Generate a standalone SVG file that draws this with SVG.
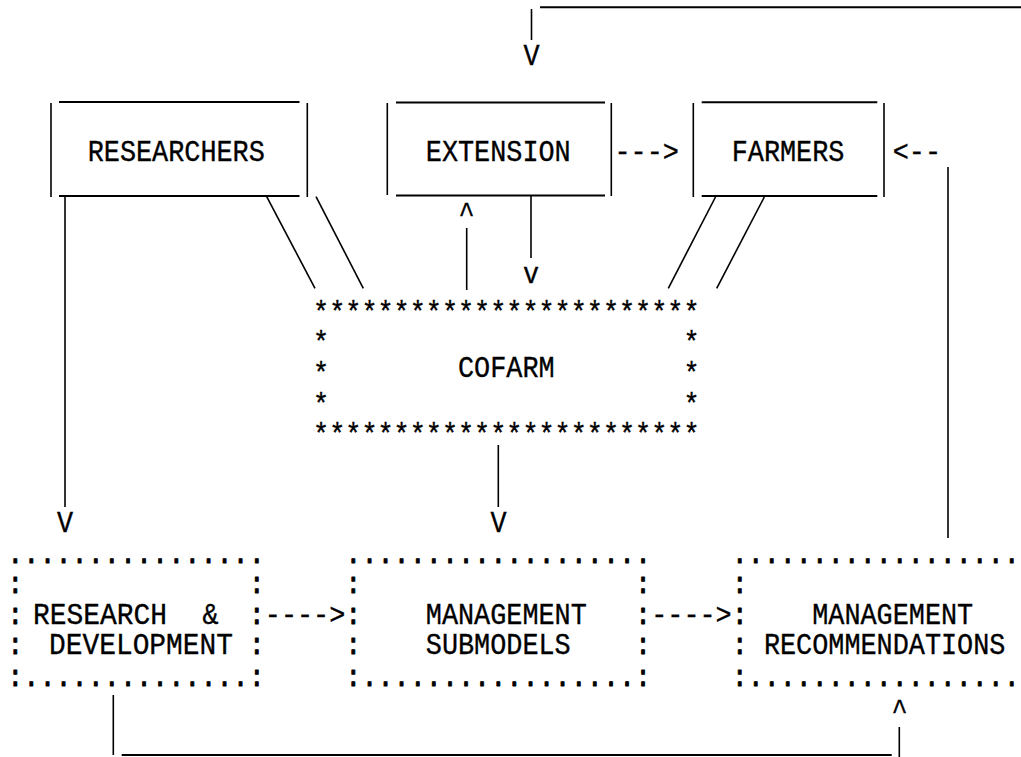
<svg xmlns="http://www.w3.org/2000/svg" width="1021" height="757" viewBox="0 0 1021 757">
<style>
.t{font-family:"Liberation Mono","Courier New",monospace;font-size:30px;fill:#000;stroke:#000;stroke-width:0.35}
.d{stroke-width:0.9;stroke-linejoin:round}
.m{text-anchor:middle}
.h{stroke:#000;stroke-width:2;fill:none}
.v{stroke:#000;stroke-width:1.6;fill:none}
</style>
<rect width="1021" height="757" fill="#fff"/>
<g id="researchers">
<line class="h" x1="59" y1="102" x2="299.5" y2="102"/>
<line class="h" x1="59" y1="196" x2="299.5" y2="196"/>
<line class="v" x1="51" y1="103" x2="51" y2="197"/>
<line class="v" x1="307.3" y1="103" x2="307.3" y2="197"/>
<text class="t" x="87.7" y="160.7" textLength="177.1" lengthAdjust="spacingAndGlyphs">RESEARCHERS</text>
</g>
<g id="extension">
<line class="h" x1="396" y1="102.5" x2="605" y2="102.5"/>
<line class="h" x1="396" y1="195.5" x2="605" y2="195.5"/>
<line class="v" x1="387.3" y1="103" x2="387.3" y2="195"/>
<line class="v" x1="611.3" y1="103" x2="611.3" y2="196"/>
<text class="t" x="425.8" y="160.7" textLength="144.9" lengthAdjust="spacingAndGlyphs">EXTENSION</text>
</g>
<g id="farmers">
<line class="h" x1="701.7" y1="102.3" x2="877.3" y2="102.3"/>
<line class="h" x1="701.7" y1="196" x2="877.3" y2="196"/>
<line class="v" x1="693.3" y1="103" x2="693.3" y2="197"/>
<line class="v" x1="884" y1="103" x2="884" y2="197"/>
<text class="t" x="731.7" y="160.7" textLength="112.7" lengthAdjust="spacingAndGlyphs">FARMERS</text>
</g>
<g id="cofarm">
<text class="t" x="313.1" y="322" textLength="386.4" lengthAdjust="spacingAndGlyphs">************************</text>
<text class="t" x="313.1" y="352" textLength="16.1" lengthAdjust="spacingAndGlyphs">*</text>
<text class="t" x="683.4" y="352" textLength="16.1" lengthAdjust="spacingAndGlyphs">*</text>
<text class="t" x="313.1" y="383" textLength="16.1" lengthAdjust="spacingAndGlyphs">*</text>
<text class="t" x="683.4" y="383" textLength="16.1" lengthAdjust="spacingAndGlyphs">*</text>
<text class="t" x="313.1" y="414" textLength="16.1" lengthAdjust="spacingAndGlyphs">*</text>
<text class="t" x="683.4" y="414" textLength="16.1" lengthAdjust="spacingAndGlyphs">*</text>
<text class="t" x="313.1" y="444" textLength="386.4" lengthAdjust="spacingAndGlyphs">************************</text>
<text class="t" x="458" y="376.7" textLength="96.6" lengthAdjust="spacingAndGlyphs">COFARM</text>
</g>
<g id="research-development">
<text class="t d" x="7.2" y="562.5" textLength="257.6" lengthAdjust="spacingAndGlyphs">................</text>
<text class="t d" x="7.2" y="593" textLength="16.1" lengthAdjust="spacingAndGlyphs">:</text>
<text class="t d" x="248.7" y="593" textLength="16.1" lengthAdjust="spacingAndGlyphs">:</text>
<text class="t d" x="7.2" y="623.5" textLength="16.1" lengthAdjust="spacingAndGlyphs">:</text>
<text class="t" x="33" y="623.5" textLength="134" lengthAdjust="spacingAndGlyphs">RESEARCH</text>
<text class="t m" x="210.5" y="623.5" textLength="16.1" lengthAdjust="spacingAndGlyphs">&amp;</text>
<text class="t d" x="248.7" y="623.5" textLength="16.1" lengthAdjust="spacingAndGlyphs">:</text>
<text class="t d" x="7.2" y="654" textLength="16.1" lengthAdjust="spacingAndGlyphs">:</text>
<text class="t" x="49" y="654" textLength="184" lengthAdjust="spacingAndGlyphs">DEVELOPMENT</text>
<text class="t d" x="248.7" y="654" textLength="16.1" lengthAdjust="spacingAndGlyphs">:</text>
<text class="t d" x="7.2" y="686" textLength="257.6" lengthAdjust="spacingAndGlyphs">:..............:</text>
</g>
<g id="management-submodels">
<text class="t d" x="345.3" y="562.5" textLength="305.9" lengthAdjust="spacingAndGlyphs">...................</text>
<text class="t d" x="345.3" y="593" textLength="16.1" lengthAdjust="spacingAndGlyphs">:</text>
<text class="t d" x="635.1" y="593" textLength="16.1" lengthAdjust="spacingAndGlyphs">:</text>
<text class="t d" x="345.3" y="623.5" textLength="16.1" lengthAdjust="spacingAndGlyphs">:</text>
<text class="t" x="425.8" y="623.5" textLength="161" lengthAdjust="spacingAndGlyphs">MANAGEMENT</text>
<text class="t d" x="635.1" y="623.5" textLength="16.1" lengthAdjust="spacingAndGlyphs">:</text>
<text class="t d" x="345.3" y="654" textLength="16.1" lengthAdjust="spacingAndGlyphs">:</text>
<text class="t" x="425.8" y="654" textLength="144.9" lengthAdjust="spacingAndGlyphs">SUBMODELS</text>
<text class="t d" x="635.1" y="654" textLength="16.1" lengthAdjust="spacingAndGlyphs">:</text>
<text class="t d" x="345.3" y="686" textLength="305.9" lengthAdjust="spacingAndGlyphs">:.................:</text>
</g>
<g id="management-recommendations">
<text class="t d" x="731.7" y="562.5" textLength="288" lengthAdjust="spacingAndGlyphs">..................</text>
<text class="t d" x="731.7" y="593" textLength="16.1" lengthAdjust="spacingAndGlyphs">:</text>
<text class="t d" x="731.7" y="623.5" textLength="16.1" lengthAdjust="spacingAndGlyphs">:</text>
<text class="t" x="812.2" y="623.5" textLength="161" lengthAdjust="spacingAndGlyphs">MANAGEMENT</text>
<text class="t d" x="731.7" y="654" textLength="16.1" lengthAdjust="spacingAndGlyphs">:</text>
<text class="t" x="763.9" y="654" textLength="241.5" lengthAdjust="spacingAndGlyphs">RECOMMENDATIONS</text>
<text class="t d" x="731.7" y="686" textLength="288" lengthAdjust="spacingAndGlyphs">:.................</text>
</g>
<g id="connectors">
<line class="h" x1="540" y1="7.3" x2="1021" y2="7.3"/>
<line class="v" x1="531.5" y1="9" x2="531.5" y2="40"/>
<text class="t m" x="531.5" y="65" textLength="16.1" lengthAdjust="spacingAndGlyphs">V</text>
<text class="t" x="614.5" y="160.7" textLength="64.4" lengthAdjust="spacingAndGlyphs">---&gt;</text>
<text class="t" x="892.7" y="160.7" textLength="48.3" lengthAdjust="spacingAndGlyphs">&lt;--</text>
<line class="v" x1="948" y1="167" x2="948" y2="538"/>
<line class="v" x1="65" y1="197" x2="65" y2="507"/>
<text class="t m" x="65" y="531.7" textLength="16.1" lengthAdjust="spacingAndGlyphs">V</text>
<line class="v" x1="266.7" y1="196.7" x2="315" y2="288.3"/>
<line class="v" x1="316" y1="196.7" x2="363.3" y2="288.3"/>
<line class="v" x1="466.7" y1="228" x2="466.7" y2="290"/>
<text class="t m" x="466.5" y="222" textLength="16.1" lengthAdjust="spacingAndGlyphs">^</text>
<line class="v" x1="531" y1="196" x2="531" y2="258"/>
<text class="t m" x="531" y="283" textLength="16.1" lengthAdjust="spacingAndGlyphs">v</text>
<line class="v" x1="715.5" y1="197" x2="668.3" y2="288.3"/>
<line class="v" x1="764.3" y1="197" x2="716.7" y2="288.3"/>
<line class="v" x1="498.3" y1="445" x2="498.3" y2="507"/>
<text class="t m" x="498.5" y="531.7" textLength="16.1" lengthAdjust="spacingAndGlyphs">V</text>
<text class="t" x="264.8" y="623.5" textLength="80.5" lengthAdjust="spacingAndGlyphs">----&gt;</text>
<text class="t" x="651.2" y="623.5" textLength="80.5" lengthAdjust="spacingAndGlyphs">----&gt;</text>
<line class="v" x1="113.3" y1="695" x2="113.3" y2="755"/>
<line class="h" x1="121.7" y1="755" x2="891.7" y2="755"/>
<line class="v" x1="899.3" y1="727" x2="899.3" y2="757"/>
<text class="t m" x="899.5" y="719" textLength="16.1" lengthAdjust="spacingAndGlyphs">^</text>
</g>
</svg>
